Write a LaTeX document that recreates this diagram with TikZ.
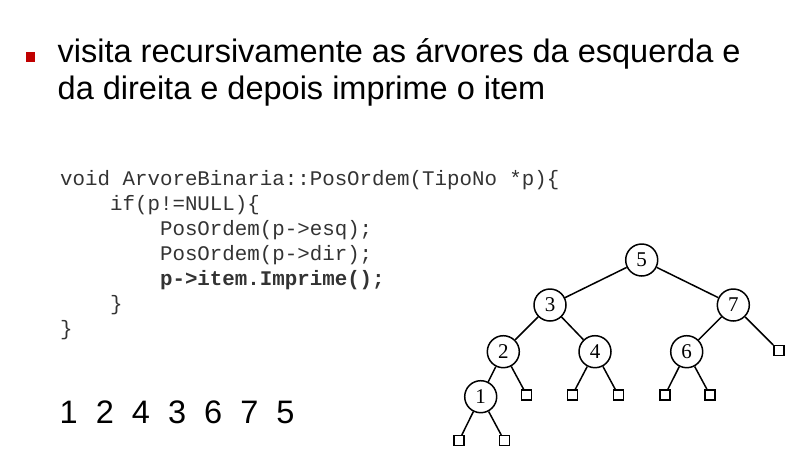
\documentclass[tikz,border=0pt]{standalone}
\usepackage{fontspec}
\setmainfont{Liberation Sans}
\newfontfamily\codefont{Liberation Mono}
\newfontfamily\treefont{Liberation Serif}
\definecolor{bulletred}{HTML}{C00000}
\definecolor{codegray}{HTML}{333333}
\begin{document}
\begin{tikzpicture}[x=1pt,y=-1pt,
  body/.style={anchor=base west,inner sep=0pt,font=\fontsize{32.5}{37}\selectfont},
  codeline/.style={anchor=base west,inner sep=0pt,text=codegray,font=\codefont\fontsize{20.8}{25}\selectfont},
  treenode/.style={circle,draw,line width=1.5pt,minimum size=32pt,inner sep=0pt,font=\treefont\fontsize{21}{21}\selectfont},
  leaf/.style={rectangle,draw,line width=1.5pt,minimum size=10pt,inner sep=0pt},
  edge/.style={line width=1.5pt}]
\useasboundingbox (0,0) rectangle (802,475);

% bullet and heading
\fill[bulletred] (26,52) rectangle (35,61.5);
\node[body] (h1) at (57.5,62) {visita recursivamente as árvores da esquerda e};
\node[body] (h2) at (57.5,99) {da direita e depois imprime o item};

% post-order routine
\node[codeline] (c1) at (60,185) {void ArvoreBinaria::PosOrdem(TipoNo *p)\{};
\node[codeline] (c2) at (60,210) {\ \ \ \ if(p!=NULL)\{};
\node[codeline] (c3) at (60,235) {\ \ \ \ \ \ \ \ PosOrdem(p->esq);};
\node[codeline] (c4) at (60,260) {\ \ \ \ \ \ \ \ PosOrdem(p->dir);};
\node[codeline] (c5) at (60,285) {\ \ \ \ \ \ \ \ \textbf{p->item.Imprime();}};
\node[codeline] (c6) at (60,310) {\ \ \ \ \}};
\node[codeline] (c7) at (60,335) {\}};

% visiting order
\node[body] (seq) at (59.5,423) {1\ \ 2\ \ 4\ \ 3\ \ 6\ \ 7\ \ 5};

% binary tree
\node[treenode] (n5) at (641.7,260) {5};
\node[treenode] (n3) at (550,305) {3};
\node[treenode] (n7) at (733.3,305) {7};
\node[treenode] (n2) at (503.3,351.7) {2};
\node[treenode] (n4) at (595,351.7) {4};
\node[treenode] (n6) at (686.7,351.7) {6};
\node[treenode] (n1) at (480.7,396.7) {1};

\node[leaf] (l7r) at (779,350.7) {};
\node[leaf] (l2r) at (526.7,395) {};
\node[leaf] (l4l) at (572.3,395) {};
\node[leaf] (l4r) at (618.3,395) {};
\node[leaf] (l6l) at (665,395) {};
\node[leaf] (l6r) at (710,395) {};
\node[leaf] (l1l) at (459,440.7) {};
\node[leaf] (l1r) at (504.3,440.7) {};

\draw[edge] (n5) -- (n3);
\draw[edge] (n5) -- (n7);
\draw[edge] (n3) -- (n2);
\draw[edge] (n3) -- (n4);
\draw[edge] (n7) -- (n6);
\draw[edge] (n7) -- (l7r);
\draw[edge] (n2) -- (n1);
\draw[edge] (n2) -- (l2r);
\draw[edge] (n4) -- (l4l);
\draw[edge] (n4) -- (l4r);
\draw[edge] (n6) -- (l6l);
\draw[edge] (n6) -- (l6r);
\draw[edge] (n1) -- (l1l);
\draw[edge] (n1) -- (l1r);
\end{tikzpicture}
\end{document}
